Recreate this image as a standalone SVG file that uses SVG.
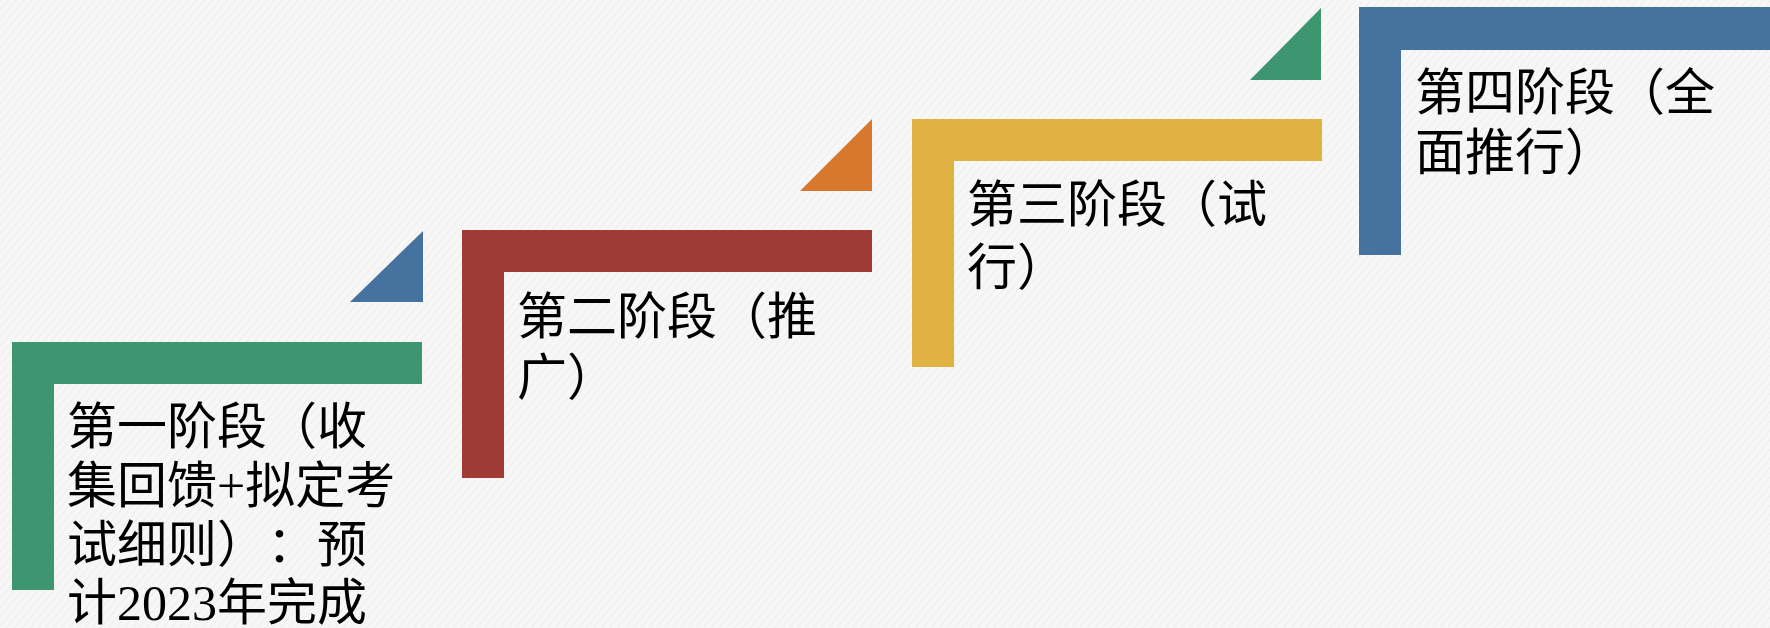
<svg xmlns="http://www.w3.org/2000/svg" width="1770" height="628" viewBox="0 0 1770 628">
  <defs>
    <pattern id="tex" width="6" height="6" patternUnits="userSpaceOnUse" patternTransform="rotate(40)">
      <rect width="6" height="6" fill="#f7f7f7"/>
      <line x1="0" y1="0" x2="0" y2="6" stroke="#e9e9e9" stroke-width="1.2"/>
    </pattern>
    <style>
      .lbl { font-family: "Liberation Serif", "Noto Sans CJK SC", serif; font-size: 50px; fill: #000; text-spacing-trim: space-all; font-feature-settings: "halt" 0, "chws" 0; }
      .green { fill: #3d9670; }
      .red { fill: #a03a34; }
      .yellow { fill: #e0b242; }
      .blue { fill: #4672a0; }
      .orange { fill: #d8782e; }
    </style>
  </defs>
  <rect width="1770" height="628" fill="url(#tex)"/>

  <g id="tri-blue">
    <path class="blue" d="M350,302 L423,231 L423,302 Z"/>
  </g>
  <g id="tri-orange">
    <path class="orange" d="M800,191 L872,119 L872,191 Z"/>
  </g>
  <g id="tri-green">
    <path class="green" d="M1250,80 L1321,8 L1321,80 Z"/>
  </g>

  <g id="stage1">
    <path class="green" d="M12,342 H422 V384 H54 V590 H12 Z"/>
    <text class="lbl" x="67" y="444">第一阶段（收</text>
    <text class="lbl" x="67" y="503">集回馈+拟定考</text>
    <text class="lbl" x="67" y="562">试细则）：预</text>
    <text class="lbl" x="67" y="620">计2023年完成</text>
  </g>

  <g id="stage2">
    <path class="red" d="M462,230 H872 V272 H504 V478 H462 Z"/>
    <text class="lbl" x="517" y="334">第二阶段（推</text>
    <text class="lbl" x="517" y="395">广）</text>
  </g>

  <g id="stage3">
    <path class="yellow" d="M912,119 H1322 V161 H954 V367 H912 Z"/>
    <text class="lbl" x="967" y="222">第三阶段（试</text>
    <text class="lbl" x="967" y="285">行）</text>
  </g>

  <g id="stage4">
    <path class="blue" d="M1359,7 H1770 V50 H1401 V255 H1359 Z"/>
    <text class="lbl" x="1415" y="110">第四阶段（全</text>
    <text class="lbl" x="1415" y="170">面推行）</text>
  </g>

  <g id="connectors"/>
</svg>
